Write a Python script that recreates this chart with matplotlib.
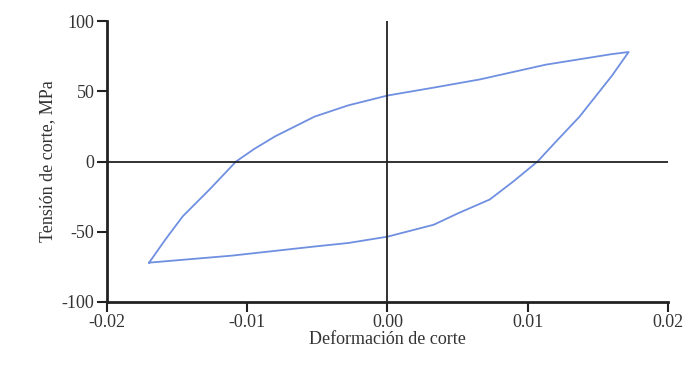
import matplotlib
matplotlib.use("Agg")
import matplotlib.pyplot as plt

# upper branch: from the minimum up to the peak
up_strain = [-0.0170, -0.0158, -0.0146, -0.0127, -0.0108, -0.0095, -0.0080,
             -0.0065, -0.0052, -0.0028, 0.0000, 0.0035, 0.0066, 0.0113,
             0.0160, 0.0172]
up_stress = [-72, -55, -39, -20, 0, 9, 18, 25.5, 32, 40, 47, 53, 58.5, 69,
             76.5, 78]

# lower branch: from the peak back down to the minimum
dn_strain = [0.0172, 0.0160, 0.0137, 0.0120, 0.0107, 0.0090, 0.0073, 0.0050,
             0.0033, 0.0000, -0.0028, -0.0052, -0.0111, -0.0170]
dn_stress = [78, 61, 32, 14, 0, -14, -27, -37, -45, -53.5, -58, -60.5, -67, -72]

x_ticks = [-0.02, -0.01, 0.00, 0.01, 0.02]
y_ticks = [-100, -50, 0, 50, 100]


def main():
    plt.rcParams['font.family'] = ['Liberation Serif', 'DejaVu Serif']
    plt.rcParams['axes.unicode_minus'] = False
    fig = plt.figure(figsize=(6.95, 3.77), dpi=100)
    ax = fig.add_axes([0.154, 0.199, 0.807, 0.745])

    ax.plot(up_strain + dn_strain[1:], up_stress + dn_stress[1:],
            color='#6f8fe0', lw=1.3)
    ax.axhline(0, color='#222222', lw=1.3)
    ax.axvline(0, color='#222222', lw=1.3)

    ax.set_xlim(-0.02, 0.02)
    ax.set_ylim(-100, 100)
    ax.set_xticks(x_ticks)
    ax.set_xticklabels(['%.2f' % v for v in x_ticks])
    ax.set_yticks(y_ticks)

    for s in ['top', 'right']:
        ax.spines[s].set_visible(False)
    for s in ['left', 'bottom']:
        ax.spines[s].set_linewidth(2)
        ax.spines[s].set_color('#222222')
    ax.tick_params(direction='out', length=7, width=1.5, color='#222222',
                   labelsize=13, labelcolor='#333333', pad=2)

    ax.set_xlabel("Deformación de corte", fontsize=13, color='#333333', labelpad=0)
    ax.set_ylabel("Tensión de corte, MPa", fontsize=13, color='#333333', labelpad=4)

    fig.savefig("out.png", dpi=100)


if __name__ == '__main__':
    main()
